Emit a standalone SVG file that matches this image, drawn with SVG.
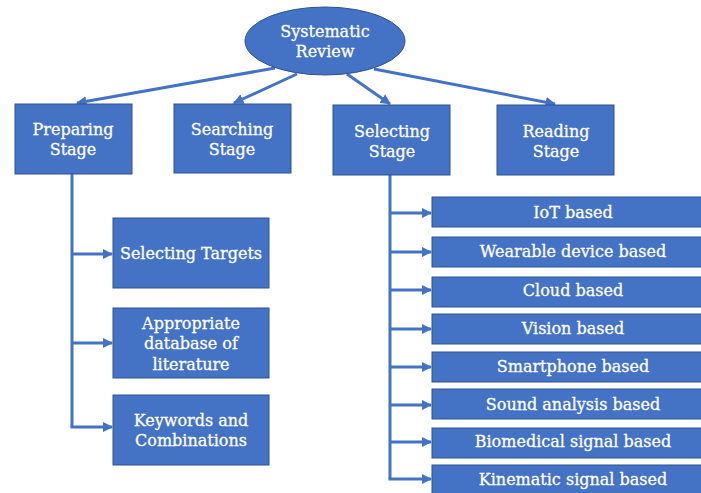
<svg xmlns="http://www.w3.org/2000/svg" width="701" height="493" viewBox="0 0 701 493">
<style>
.n{fill:#4472C4;stroke:#2F528F;stroke-width:1}
.t{fill:#fff;font-family:"DejaVu Serif","Liberation Serif",serif;font-size:16px;text-anchor:middle;stroke:#fff;stroke-width:0.3}
.c{stroke:#4472C4;stroke-width:3;fill:none}
</style>
<defs>
<marker id="a" viewBox="0 0 10 10" refX="9" refY="5" markerWidth="3.5" markerHeight="3.5" markerUnits="strokeWidth" orient="auto">
<path d="M0,0L10,5L0,10z" fill="#4472C4"/>
</marker>
</defs>
<g id="connectors">
<line class="c" x1="275" y1="68" x2="77" y2="103" marker-end="url(#a)"/>
<line class="c" x1="297" y1="74" x2="234" y2="103" marker-end="url(#a)"/>
<line class="c" x1="347" y1="74" x2="390" y2="104" marker-end="url(#a)"/>
<line class="c" x1="374" y1="69" x2="555" y2="104" marker-end="url(#a)"/>
<polyline class="c" points="72,174 72,427"/>
<line class="c" x1="72" y1="254" x2="112" y2="254" marker-end="url(#a)"/>
<line class="c" x1="72" y1="343" x2="112" y2="343" marker-end="url(#a)"/>
<line class="c" x1="70.5" y1="427" x2="112" y2="427" marker-end="url(#a)"/>
<polyline class="c" points="390,175 390,479"/>
<line class="c" x1="390" y1="213" x2="431" y2="213" marker-end="url(#a)"/>
<line class="c" x1="390" y1="252" x2="431" y2="252" marker-end="url(#a)"/>
<line class="c" x1="390" y1="290" x2="431" y2="290" marker-end="url(#a)"/>
<line class="c" x1="390" y1="329" x2="431" y2="329" marker-end="url(#a)"/>
<line class="c" x1="390" y1="367" x2="431" y2="367" marker-end="url(#a)"/>
<line class="c" x1="390" y1="405" x2="431" y2="405" marker-end="url(#a)"/>
<line class="c" x1="390" y1="442" x2="431" y2="442" marker-end="url(#a)"/>
<line class="c" x1="388.5" y1="479" x2="431" y2="479" marker-end="url(#a)"/>
</g>
<g id="root"><ellipse class="n" cx="325" cy="41" rx="80" ry="34"/>
<text class="t" x="325" y="37">Systematic</text><text class="t" x="325" y="57">Review</text></g>
<g id="preparing"><rect class="n" x="15" y="104" width="117" height="70"/>
<text class="t" x="73" y="135">Preparing</text><text class="t" x="73" y="155">Stage</text></g>
<g id="searching"><rect class="n" x="174" y="104" width="117" height="69"/>
<text class="t" x="232" y="135">Searching</text><text class="t" x="232" y="155">Stage</text></g>
<g id="selecting"><rect class="n" x="333" y="105" width="117" height="70"/>
<text class="t" x="392" y="137">Selecting</text><text class="t" x="392" y="157">Stage</text></g>
<g id="reading"><rect class="n" x="497" y="105" width="117" height="70"/>
<text class="t" x="556" y="137">Reading</text><text class="t" x="556" y="157">Stage</text></g>
<g id="targets"><rect class="n" x="113" y="218" width="156" height="70"/>
<text class="t" x="191" y="259">Selecting Targets</text></g>
<g id="database"><rect class="n" x="113" y="308" width="156" height="70"/>
<text class="t" x="191" y="329">Appropriate</text><text class="t" x="191" y="349">database of</text><text class="t" x="191" y="370">literature</text></g>
<g id="keywords"><rect class="n" x="113" y="395" width="156" height="70"/>
<text class="t" x="191" y="426">Keywords and</text><text class="t" x="191" y="446">Combinations</text></g>
<g id="iot"><rect class="n" x="432" y="197" width="282" height="30"/><text class="t" x="573" y="218">IoT based</text></g>
<g id="wearable"><rect class="n" x="432" y="237" width="282" height="30"/><text class="t" x="573" y="257">Wearable device based</text></g>
<g id="cloud"><rect class="n" x="432" y="277" width="282" height="30"/><text class="t" x="573" y="296">Cloud based</text></g>
<g id="vision"><rect class="n" x="432" y="314" width="282" height="30"/><text class="t" x="573" y="334">Vision based</text></g>
<g id="smartphone"><rect class="n" x="432" y="352" width="282" height="30"/><text class="t" x="573" y="372">Smartphone based</text></g>
<g id="sound"><rect class="n" x="432" y="389" width="282" height="30"/><text class="t" x="573" y="410">Sound analysis based</text></g>
<g id="biomedical"><rect class="n" x="432" y="428" width="282" height="30"/><text class="t" x="573" y="447">Biomedical signal based</text></g>
<g id="kinematic"><rect class="n" x="432" y="465" width="282" height="30"/><text class="t" x="573" y="485">Kinematic signal based</text></g>
</svg>
